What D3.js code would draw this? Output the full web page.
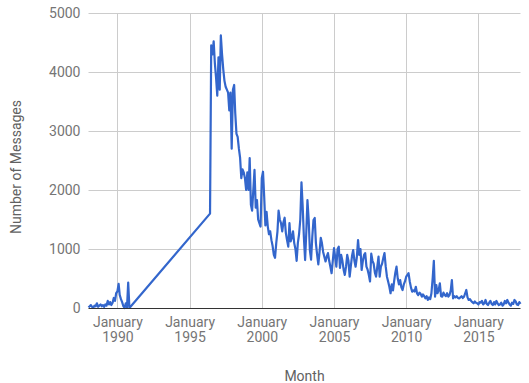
<!DOCTYPE html>
<html><head><meta charset="utf-8">
<script src="https://cdn.jsdelivr.net/npm/d3@7"></script>
<style>body{margin:0;background:#fff;} svg{display:block;font-family:Roboto,Arial,sans-serif;}</style>
</head><body><div id="chart"></div>
<script>
// Early segment: monthly from 1988-01
const earlyStart = [1988, 0];
const earlyValues = [10,30,50,20,5,40,30,80,20,40,60,30,50,20,60,40,120,60,100,50,90,170,120,250,280,410,220,150,100,30,0,80,10,430,0];
// Gap point
const gapPoint = {year: 1996, month: 5, value: 1600};
// Late segment: monthly from 1996-07
const lateStart = [1996, 6];
const lateValues = [
4450,4300,4520,4150,3900,3600,4250,3700,4620,4300,4050,3850,
3750,3700,3650,3350,3650,2700,3700,3780,3300,2950,2900,2700,
2550,2200,2350,2300,2200,2000,2300,2000,2540,1750,1650,2000,
2340,1700,1830,1500,1440,1380,2200,2310,1900,1400,1630,1380,
1250,1300,1150,1050,900,850,1100,1300,1650,1500,1440,1300,
1450,1530,1270,1150,1040,1440,1130,1200,1300,1100,1000,800,
1100,1250,1500,2130,1717,1200,813,1300,1830,1500,983,820,
1200,1491,1525,1100,900,740,950,1190,1100,950,870,790,
870,930,800,700,590,800,1017,850,700,1000,1040,680,
900,800,650,560,700,900,800,530,700,880,983,800,
700,860,1150,900,1000,644,800,900,930,700,650,560,
450,920,800,750,600,530,700,870,530,700,750,850,
930,700,530,450,360,250,400,300,450,600,700,500,
400,474,350,305,400,450,530,560,590,450,350,276,
300,280,360,250,220,260,240,192,230,200,164,200,
136,180,150,250,500,800,192,390,250,300,419,200,
192,260,220,200,250,192,220,300,474,164,200,180,
200,170,164,180,200,170,190,250,305,180,136,150,
120,100,80,110,90,80,60,100,90,120,60,80,
136,70,51,90,120,70,50,100,60,120,80,50,
60,90,40,60,120,80,136,90,60,40,90,70,
136,110,60,51,100,70];
const yTicks = [0,1000,2000,3000,4000,5000];
const xTickYears = [1990,1995,2000,2005,2010,2015];
const yTitle = "Number of Messages";
const xTitle = "Month";

const data = [];
earlyValues.forEach((v,i)=>data.push({date:new Date(earlyStart[0], earlyStart[1]+i, 1), value:v}));
data.push({date:new Date(gapPoint.year, gapPoint.month, 1), value:gapPoint.value});
lateValues.forEach((v,i)=>data.push({date:new Date(lateStart[0], lateStart[1]+i, 1), value:v}));

const W=529,H=383;
const L=88.5,R=520.5,T=13,B=308;
const FS="14px";
const svg=d3.select("#chart").append("svg").attr("width",W).attr("height",H);
const x=d3.scaleTime().domain(d3.extent(data,d=>d.date)).range([L,R]);
const y=d3.scaleLinear().domain([0,5000]).range([B,T]);

// horizontal gridlines
svg.append("g").selectAll("line").data(yTicks.filter(t=>t>0)).join("line")
 .attr("x1",L).attr("x2",R).attr("y1",d=>Math.round(y(d))+0.5).attr("y2",d=>Math.round(y(d))+0.5)
 .attr("stroke","#cccccc").attr("stroke-width",1);
// vertical gridlines
const xTicks = xTickYears.map(yr=>new Date(yr,0,1));
svg.append("g").selectAll("line").data(xTicks).join("line")
 .attr("x1",d=>Math.round(x(d))+0.5).attr("x2",d=>Math.round(x(d))+0.5).attr("y1",T).attr("y2",B)
 .attr("stroke","#cccccc").attr("stroke-width",1);

// y axis labels
const yAxis=d3.axisLeft(y).tickValues(yTicks).tickSize(0).tickPadding(8).tickFormat(d3.format("d"));
const gy=svg.append("g").attr("transform",`translate(${L},0)`).call(yAxis);
gy.select(".domain").remove();
gy.selectAll("text").attr("fill","#757575").style("font-size",FS).style("font-family","Roboto,Arial,sans-serif");

// x axis labels
const xAxis=d3.axisBottom(x).tickValues(xTicks).tickSize(0).tickPadding(9).tickFormat(d=>"");
const gx=svg.append("g").attr("transform",`translate(0,${B})`).call(xAxis);
gx.select(".domain").remove();
gx.selectAll(".tick text").each(function(d){
  const t=d3.select(this).text(null).attr("fill","#757575").style("font-size",FS).style("font-family","Roboto,Arial,sans-serif");
  t.append("tspan").attr("x",0).attr("dy","0.71em").text("January");
  t.append("tspan").attr("x",0).attr("dy","1.1em").text(d.getFullYear());
});

// line
const line=d3.line().x(d=>x(d.date)).y(d=>y(d.value));
svg.append("path").datum(data).attr("d",line).attr("fill","none")
 .attr("stroke","#3366cc").attr("stroke-width",2.2).attr("stroke-linejoin","round");

// baseline
svg.append("line").attr("x1",L).attr("x2",R).attr("y1",B+0.5).attr("y2",B+0.5).attr("stroke","#333333").attr("stroke-width",1);

// titles
svg.append("text").attr("x",(L+R)/2).attr("y",381).attr("text-anchor","middle")
 .attr("fill","#616161").style("font-size",FS).text(xTitle);
svg.append("text").attr("transform",`translate(21,${167}) rotate(-90)`).attr("text-anchor","middle")
 .attr("fill","#616161").style("font-size",FS).text(yTitle);
</script></body></html>
